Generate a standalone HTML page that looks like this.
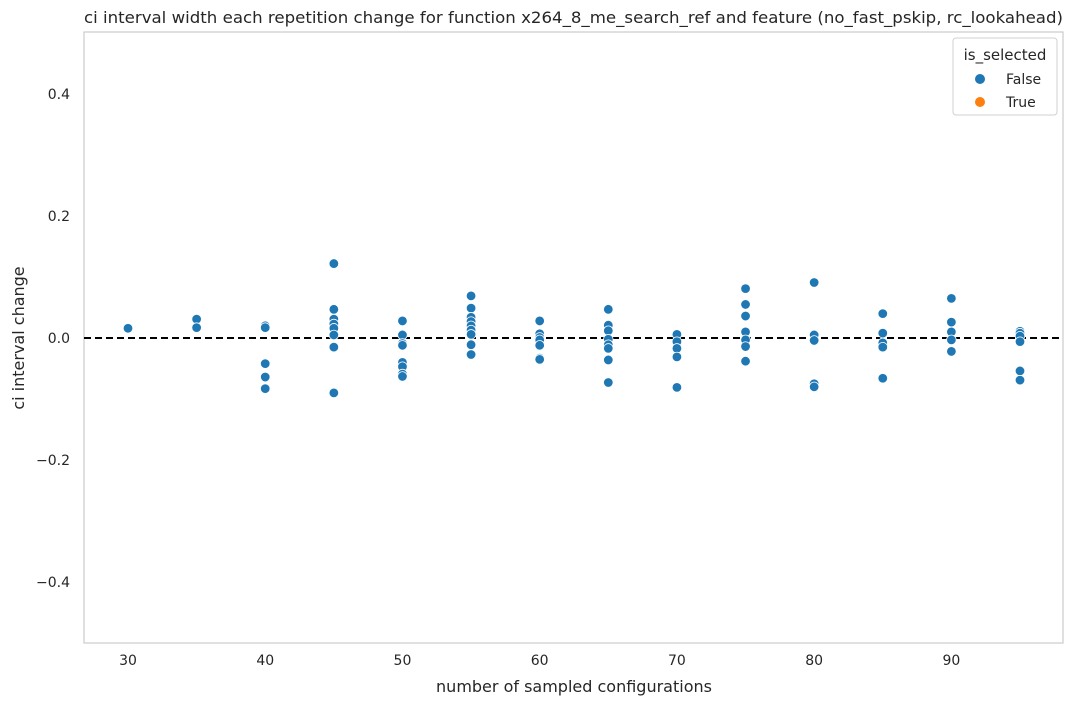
<!DOCTYPE html>
<html><head><meta charset="utf-8"><style>
body{margin:0;background:#fff;font-family:"DejaVu Sans","Liberation Sans",sans-serif}
svg text{font-family:"DejaVu Sans","Liberation Sans",sans-serif}
</style></head><body>
<svg id="chart" width="1074" height="706" xmlns="http://www.w3.org/2000/svg">
<text x="84" y="23" font-size="16" textLength="979" lengthAdjust="spacingAndGlyphs" fill="#262626">ci interval width each repetition change for function x264_8_me_search_ref and feature (no_fast_pskip, rc_lookahead)</text>
<rect x="84" y="32" width="979" height="611" fill="none" stroke="#cccccc" stroke-width="1.2"/>
<g id="yticks"></g>
<g id="xticks"></g>
<text x="574" y="692" font-size="16" text-anchor="middle" fill="#262626">number of sampled configurations</text>
<text transform="translate(24,338) rotate(-90)" font-size="16" text-anchor="middle" fill="#262626">ci interval change</text>
<line x1="84" x2="1063" y1="338" y2="338" stroke="#000" stroke-width="2" stroke-dasharray="7,4" id="zeroline"/>
<g id="points"></g>
<g>
<rect x="953" y="38" width="104" height="77" rx="3" fill="#fff" fill-opacity="0.8" stroke="#d0d0d0"/>
<text x="1005" y="60" font-size="15" text-anchor="middle" fill="#262626">is_selected</text>
<g><circle cx="980" cy="79" r="5" fill="#1f77b4"/><text x="1006" y="84" font-size="14" fill="#262626">False</text></g>
<g><circle cx="980" cy="102" r="5" fill="#ff7f0e"/><text x="1006" y="107" font-size="14" fill="#262626">True</text></g>
</g>
</svg>
<script>
const xCategories=[30,35,40,45,50,55,60,65,70,75,80,85,90,95];
const seriesValues=[
[0.016],
[0.031,0.017],
[0.020,0.017,-0.042,-0.064,-0.083],
[0.122,0.047,0.031,0.023,0.016,0.005,-0.015,-0.090],
[0.028,0.005,-0.009,-0.012,-0.040,-0.047,-0.059,-0.063],
[0.069,0.049,0.034,0.027,0.020,0.013,0.006,-0.011,-0.027],
[0.028,0.007,0.001,-0.003,-0.012,-0.033,-0.035],
[0.047,0.021,0.012,-0.002,-0.011,-0.017,-0.036,-0.073],
[0.006,-0.006,-0.017,-0.031,-0.081],
[0.081,0.055,0.036,0.010,-0.003,-0.014,-0.038],
[0.091,0.005,-0.004,-0.075,-0.080],
[0.040,0.008,-0.008,-0.015,-0.066],
[0.065,0.026,0.010,-0.003,-0.022],
[0.011,0.008,0.003,-0.006,-0.054,-0.069]];
const yTickValues=[-0.4,-0.2,0,0.2,0.4];
const yTickLabels=["\u22120.4","\u22120.2","0.0","0.2","0.4"];
const xTickValues=[30,40,50,60,70,80,90];
const xTickLabels=["30","40","50","60","70","80","90"];
const NS="http://www.w3.org/2000/svg";
const xs=v=>128+(v-30)*(892/65);
const ys=v=>338-v*610;
document.getElementById('zeroline').setAttribute('y1',ys(0));
document.getElementById('zeroline').setAttribute('y2',ys(0));
const yt=document.getElementById('yticks');
yTickValues.forEach((v,i)=>{const t=document.createElementNS(NS,'text');
t.setAttribute('x',70);t.setAttribute('y',ys(v)+5);t.setAttribute('font-size','14');t.setAttribute('text-anchor','end');t.setAttribute('fill','#262626');


t.textContent=yTickLabels[i];yt.appendChild(t);});
const xt=document.getElementById('xticks');
xTickValues.forEach((v,i)=>{const t=document.createElementNS(NS,'text');
t.setAttribute('x',xs(v));t.setAttribute('y',665);t.setAttribute('font-size','14');t.setAttribute('text-anchor','middle');t.setAttribute('fill','#262626');


t.textContent=xTickLabels[i];xt.appendChild(t);});
const pg=document.getElementById('points');
xCategories.forEach((x,i)=>{seriesValues[i].forEach(v=>{const c=document.createElementNS(NS,'circle');
c.setAttribute('cx',xs(x));c.setAttribute('cy',ys(v));c.setAttribute('r',4.8);c.setAttribute('fill','#1f77b4');c.setAttribute('stroke','#fff');c.setAttribute('stroke-width','0.8');


pg.appendChild(c);});});
</script>
</body></html>
